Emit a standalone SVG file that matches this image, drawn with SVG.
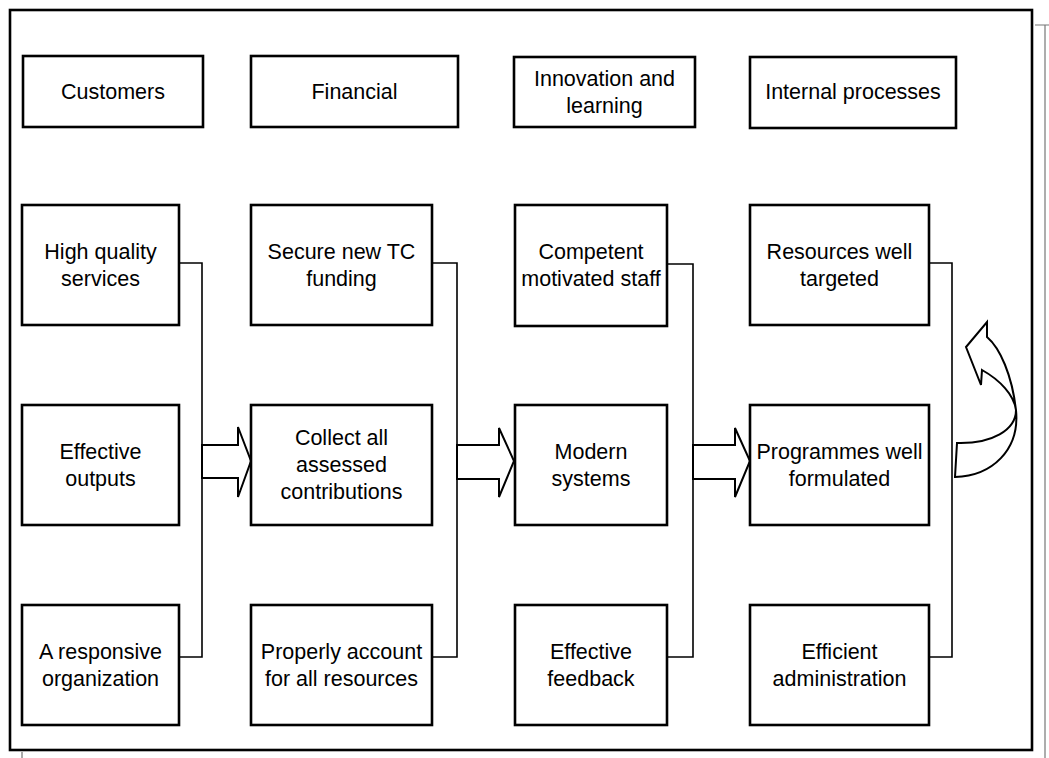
<svg xmlns="http://www.w3.org/2000/svg" width="1049" height="758" viewBox="0 0 1049 758">
<style>
.box{fill:#fff;stroke:#000;stroke-width:2.6}
.t{font-family:"Liberation Sans",Arial,sans-serif;font-size:21.5px;fill:#000;text-anchor:middle}
.c{fill:none;stroke:#000;stroke-width:1.6}
.arr{fill:#fff;stroke:#000;stroke-width:2;stroke-linejoin:miter}
</style>
<rect width="1049" height="758" fill="#fff"/>
<g id="frame">
<rect x="10" y="10" width="1022" height="740" fill="none" stroke="#000" stroke-width="2.6"/>
<path d="M1035,25 H1049 M1045,25 V758" fill="none" stroke="#777" stroke-width="1.2"/>
<path d="M22,752 V758" fill="none" stroke="#555" stroke-width="1"/>
</g>
<g id="connectors">
<path class="c" d="M179,263 H202 V657 H179"/>
<path class="c" d="M432,263 H457 V657 H432"/>
<path class="c" d="M667,264 H693 V657 H667"/>
<path class="c" d="M929,263 H952 V657 H929"/>
<path class="arr" d="M202,445 H238 V427 L251,461 L238,497 V478 H202 Z"/>
<path class="arr" d="M457,445 H499 V428 L514,461 L499,497 V479 H457 Z"/>
<path class="arr" d="M693,445 H735 V428 L750,461 L735,497 V479 H693 Z"/>
<path class="arr" d="M955,477 C992,476 1020,450 1016,410 C1012,375 1000,348 987,337 L987,322 L966,347 L981,385 L982,370 C1000,380 1014,395 1016,410 C1016,430 992,444 957,443 Z"/>
</g>
<g id="h-customers"><rect class="box" x="23" y="56" width="180" height="71"/><text class="t" x="113" y="99">Customers</text></g>
<g id="h-financial"><rect class="box" x="251" y="56" width="207" height="71"/><text class="t" x="354.5" y="99">Financial</text></g>
<g id="h-innovation"><rect class="box" x="514" y="57" width="181" height="70"/><text class="t" x="604.5" y="86">Innovation and</text><text class="t" x="604.5" y="113">learning</text></g>
<g id="h-internal"><rect class="box" x="750" y="57" width="206" height="71"/><text class="t" x="853" y="99">Internal processes</text></g>

<g id="n-high-quality"><rect class="box" x="22" y="205" width="157" height="120"/><text class="t" x="100.5" y="259">High quality</text><text class="t" x="100.5" y="286">services</text></g>
<g id="n-effective-outputs"><rect class="box" x="22" y="405" width="157" height="120"/><text class="t" x="100.5" y="459">Effective</text><text class="t" x="100.5" y="486">outputs</text></g>
<g id="n-responsive"><rect class="box" x="22" y="605" width="157" height="120"/><text class="t" x="100.5" y="659">A responsive</text><text class="t" x="100.5" y="686">organization</text></g>

<g id="n-secure"><rect class="box" x="251" y="205" width="181" height="120"/><text class="t" x="341.5" y="259">Secure new TC</text><text class="t" x="341.5" y="286">funding</text></g>
<g id="n-collect"><rect class="box" x="251" y="405" width="181" height="120"/><text class="t" x="341.5" y="445">Collect all</text><text class="t" x="341.5" y="472">assessed</text><text class="t" x="341.5" y="499">contributions</text></g>
<g id="n-properly"><rect class="box" x="251" y="605" width="181" height="120"/><text class="t" x="341.5" y="659">Properly account</text><text class="t" x="341.5" y="686">for all resources</text></g>

<g id="n-competent"><rect class="box" x="515" y="205" width="152" height="121"/><text class="t" x="591" y="259">Competent</text><text class="t" x="591" y="286">motivated staff</text></g>
<g id="n-modern"><rect class="box" x="515" y="405" width="152" height="120"/><text class="t" x="591" y="459">Modern</text><text class="t" x="591" y="486">systems</text></g>
<g id="n-feedback"><rect class="box" x="515" y="605" width="152" height="120"/><text class="t" x="591" y="659">Effective</text><text class="t" x="591" y="686">feedback</text></g>

<g id="n-resources"><rect class="box" x="750" y="205" width="179" height="120"/><text class="t" x="839.5" y="259">Resources well</text><text class="t" x="839.5" y="286">targeted</text></g>
<g id="n-programmes"><rect class="box" x="750" y="405" width="179" height="120"/><text class="t" x="839.5" y="459">Programmes well</text><text class="t" x="839.5" y="486">formulated</text></g>
<g id="n-efficient"><rect class="box" x="750" y="605" width="179" height="120"/><text class="t" x="839.5" y="659">Efficient</text><text class="t" x="839.5" y="686">administration</text></g>
</svg>
